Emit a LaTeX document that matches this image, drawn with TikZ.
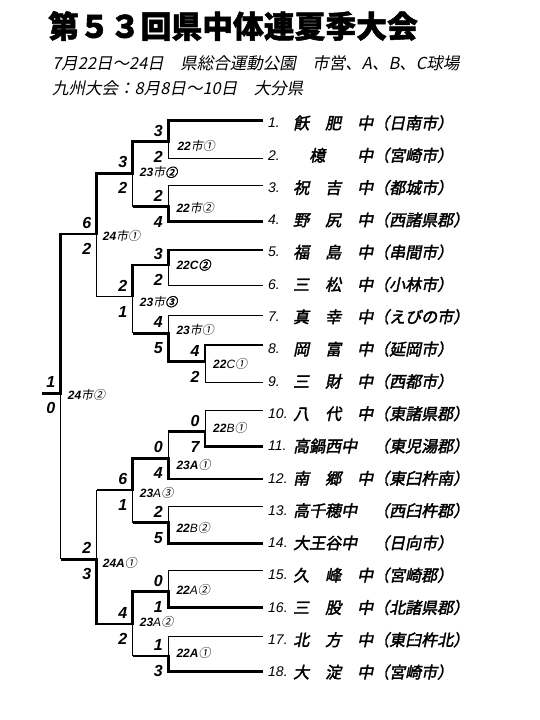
\documentclass[tikz,border=0pt]{standalone}
\usepackage{fontspec}
\setmainfont{Liberation Sans}
\newfontfamily\jp{Noto Sans CJK JP}[FakeSlant=0.2]
\newfontfamily\jpfuto{Noto Sans CJK JP}[FakeSlant=0.2,FakeBold=2.2]
\newfontfamily\jpmidashi{Noto Sans CJK JP}[BoldFeatures={FakeBold=1.6}]
\usetikzlibrary{calc}
\newcommand{\kazu}[1]{{\normalfont\bfseries\itshape #1}}
\newcommand{\hoso}[1]{{\normalfont\itshape #1}}
\newcommand{\futo}[1]{{\jpfuto #1}}
\tikzset{
  kachi/.style={line width=2.8pt},
  make/.style={line width=0.9pt},
  ten/.style={font=\fontsize{16}{16}\selectfont\bfseries\itshape,inner sep=0pt},
  bango/.style={anchor=west,font=\fontsize{14}{14}\selectfont\itshape,inner sep=0pt},
  kou/.style={anchor=west,font=\fontsize{16}{16}\selectfont\jpfuto,inner sep=0pt},
  kaisen/.style={anchor=west,font=\fontsize{12}{12}\selectfont\jp,inner sep=0pt},
}

\begin{document}
\begin{tikzpicture}[x=1pt,y=-1pt]
  \useasboundingbox (0,0) rectangle (540,720);
  % midashi
  \node[anchor=west,inner sep=0pt,font=\fontsize{30.8}{31}\selectfont\jpmidashi\bfseries] (taikai) at (48,26)
    {第５３回県中体連夏季大会};
  \node[anchor=west,inner sep=0pt,font=\fontsize{16.5}{17}\selectfont\jp] (nittei) at (52,63)
    {7月22日～24日　県総合運動公園　市営、A、B、C球場};
  \node[anchor=west,inner sep=0pt,font=\fontsize{16.5}{17}\selectfont\jp] (kyushu) at (52,88)
    {九州大会：8月8日～10日　大分県};

  % chuugakkou
  \foreach \n/\kou in {1/飫　肥　中（日南市）,2/　檍　　中（宮崎市）,3/祝　吉　中（都城市）,
      4/野　尻　中（西諸県郡）,5/福　島　中（串間市）,6/三　松　中（小林市）,7/真　幸　中（えびの市）,
      8/岡　富　中（延岡市）,9/三　財　中（西都市）,10/八　代　中（東諸県郡）,11/高鍋西中　（東児湯郡）,
      12/南　郷　中（東臼杵南）,13/高千穂中　（西臼杵郡）,14/大王谷中　（日向市）,15/久　峰　中（宮崎郡）,
      16/三　股　中（北諸県郡）,17/北　方　中（東臼杵北）,18/大　淀　中（宮崎市）} {
    \node[bango] (no\n) at (268,{123+32.3*(\n-1)}) {\n.};
    \node[kou] (kou\n) at (293,{123+32.3*(\n-1)}) {\kou};
  }

  % sen no hashi
  \foreach \n/\y in {1/120.7,2/158.3,3/185,4/221.7,5/250,6/285,7/315,8/345,9/382.7,
      10/410,11/446.7,12/479,13/506.7,14/543.3,15/570.7,16/607.3,17/636.7,18/671.7}
    \coordinate (t\n) at (263,\y);

  % shiai
  \coordinate (m1) at (168.3,141.7);
  \coordinate (m2) at (168.3,206.7);
  \coordinate (m3) at (132.7,173.3);
  \coordinate (m4) at (168.3,265);
  \coordinate (m5) at (205,361.7);
  \coordinate (m6) at (168.3,333.3);
  \coordinate (m7) at (132.7,296.7);
  \coordinate (m8) at (96.7,234);
  \coordinate (m9) at (205,431.7);
  \coordinate (m10) at (168.3,458.3);
  \coordinate (m11) at (168.3,522.7);
  \coordinate (m12) at (132.7,490);
  \coordinate (m13) at (168.3,591.7);
  \coordinate (m14) at (168.3,656);
  \coordinate (m15) at (132.7,624);
  \coordinate (m16) at (96.7,559.3);
  \coordinate (m17) at (60.7,393.3);
  \coordinate (yusho) at (41.7,393.3);

  % maketa sen
  \draw[make] (t2) -- (m1|-t2) -- (m1);
  \draw[make] (t3) -- (m2|-t3) -- (m2);
  \draw[make] (m3|-m2) -- (m3);
  \draw[make] (t6) -- (m4|-t6) -- (m4);
  \draw[make] (t9) -- (m5|-t9) -- (m5);
  \draw[make] (t7) -- (m6|-t7) -- (m6);
  \draw[make] (m7|-m6) -- (m7) -- (m8|-m7) -- (m8);
  \draw[make] (t10) -- (m9|-t10) -- (m9);
  \draw[make] (m10|-m9) -- (m10);
  \draw[make] (t13) -- (m11|-t13) -- (m11);
  \draw[make] (m12|-m11) -- (m12);
  \draw[make] (t15) -- (m13|-t15) -- (m13);
  \draw[make] (t17) -- (m14|-t17) -- (m14);
  \draw[make] (m15|-m14) -- (m15);
  \draw[make] (m16|-m12) -- (m16);
  \draw[make] (m17|-m16) -- (m17);

  % katta sen
  \draw[kachi] (t1) -- (m1|-t1) -- (m1) -- (m3|-m1) -- (m3) -- (m8|-m3) -- (m8) -- (m17|-m8) -- (m17) -- (yusho);
  \draw[kachi] (t4) -- (m2|-t4) -- (m2) -- (m3|-m2);
  \draw[kachi] (t5) -- (m4|-t5) -- (m4) -- (m7|-m4) -- (m7);
  \draw[kachi] (t8) -- (m5|-t8) -- (m5) -- (m6|-m5) -- (m6) -- (m7|-m6);
  \draw[kachi] (t11) -- (m9|-t11) -- (m9) -- (m10|-m9);
  \draw[kachi] (t12) -- (m10|-t12) -- (m10) -- (m12|-m10) -- (m12) -- (m16|-m12);
  \draw[kachi] (t14) -- (m11|-t14) -- (m11) -- (m12|-m11);
  \draw[kachi] (t16) -- (m13|-t16) -- (m13) -- (m15|-m13) -- (m15) -- (m16|-m15) -- (m16) -- (m17|-m16);
  \draw[kachi] (t18) -- (m14|-t18) -- (m14) -- (m15|-m14);

  % tokuten
  \foreach \m/\a/\b in {1/3/2,2/2/4,3/3/2,4/3/2,5/4/2,6/4/5,7/2/1,8/6/2,9/0/7,
      10/0/4,11/2/5,12/6/1,13/0/1,14/1/3,15/4/2,16/2/3,17/1/0} {
    \node[ten] (ue\m) at ($(m\m)+(-10,-11)$) {\a};
    \node[ten] (shita\m) at ($(m\m)+(-10,15)$) {\b};
  }

  % kaisen
  \node[kaisen] (k1) at ($(m1)+(9,4)$) {\kazu{22}市①};
  \node[kaisen] (k2) at ($(m2)+(8,1)$) {\kazu{22}市②};
  \node[kaisen] (k3) at ($(m3)+(7,-1)$) {\kazu{23}市\futo{②}};
  \node[kaisen] (k4) at ($(m4)+(8,0)$) {\kazu{22C}\futo{②}};
  \node[kaisen] (k5) at ($(m5)+(8,2)$) {\kazu{22}\hoso{C}①};
  \node[kaisen] (k6) at ($(m6)+(8,-3)$) {\kazu{23}市①};
  \node[kaisen] (k7) at ($(m7)+(7,5)$) {\kazu{23}市\futo{③}};
  \node[kaisen] (k8) at ($(m8)+(6,2)$) {\kazu{24}市①};
  \node[kaisen] (k9) at ($(m9)+(8,-4)$) {\kazu{22}\hoso{B}①};
  \node[kaisen] (k10) at ($(m10)+(8,7)$) {\kazu{23A}①};
  \node[kaisen] (k11) at ($(m11)+(8,5.5)$) {\kazu{22}\hoso{B}②};
  \node[kaisen] (k12) at ($(m12)+(7,3)$) {\kazu{23}\hoso{A}③};
  \node[kaisen] (k13) at ($(m13)+(8,-2)$) {\kazu{22}\hoso{A}②};
  \node[kaisen] (k14) at ($(m14)+(8,-3)$) {\kazu{22A}①};
  \node[kaisen] (k15) at ($(m15)+(7,-2.5)$) {\kazu{23}\hoso{A}②};
  \node[kaisen] (k16) at ($(m16)+(6,4)$) {\kazu{24A}①};
  \node[kaisen] (k17) at ($(m17)+(7,2)$) {\kazu{24}市②};
\end{tikzpicture}
\end{document}
